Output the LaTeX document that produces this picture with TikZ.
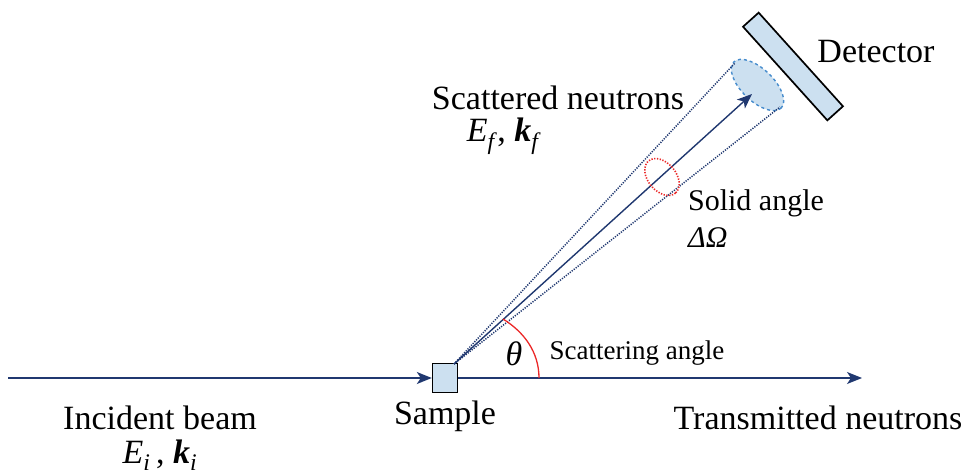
\documentclass[tikz,border=0pt]{standalone}
\usepackage{fontspec}
\setmainfont{Liberation Serif}
\usetikzlibrary{arrows.meta,calc}
\definecolor{navy}{RGB}{32,56,112}
\definecolor{lblue}{RGB}{204,224,240}
\definecolor{dblue}{RGB}{70,140,205}
\definecolor{redarc}{RGB}{235,40,40}
\tikzset{
  lbl/.style={inner sep=0pt, font=\fontsize{34}{38}\selectfont},
  midlbl/.style={inner sep=0pt, font=\fontsize{30}{34}\selectfont},
  smalllbl/.style={inner sep=0pt, font=\fontsize{27}{30}\selectfont},
  beam/.style={draw=navy, line width=1.4pt, -{Stealth[length=15pt,width=12pt,inset=4pt]}},
  cone/.style={draw=navy, line width=1.5pt, dash pattern=on 1.2pt off 1.3pt},
}
\begin{document}
\begin{tikzpicture}[x=1pt,y=-1pt]
\useasboundingbox (0,0) rectangle (967,476);
% sample
\node[draw=black, line width=1.4pt, fill=lblue, minimum width=25pt, minimum height=29pt, inner sep=0pt] (sample) at (445,378) {};
\coordinate (src) at (8,378);
\coordinate (tr) at (862,378);
\coordinate (O) at (454,364);
\coordinate (tip) at (752,94);
\coordinate (eu) at (735,63);
\coordinate (el) at (780,107);
\coordinate (ec) at (757.5,85);
\coordinate (rc) at (662,177);
% detector
\node[draw=black, line width=1.7pt, fill=lblue, minimum width=126pt, minimum height=21pt, inner sep=0pt, rotate=-48] (det) at (793,66.5) {};
% detected area ellipse
\draw[draw=dblue, dashed, line width=1.4pt, fill=lblue, rotate around={-44:(ec)}] (ec) ellipse [x radius=33, y radius=16];
% cone
\draw[cone] (O) -- (eu);
\draw[cone] (O) -- (el);
% beams
\draw[beam] (src) -- (sample.west);
\draw[beam] (sample.east) -- (tr);
\draw[beam] (O) -- (tip);
% solid angle ellipse
\draw[draw=redarc, line width=1.6pt, dash pattern=on 1.3pt off 1.5pt, rotate around={-50:(rc)}] (rc) ellipse [x radius=21, y radius=14];
% theta arc
\draw[draw=redarc, line width=1.3pt] (539,378) .. controls (539,352) and (524,332) .. (503,319);
% labels
\node[lbl] (tDet) at (876,52) {Detector};
\node[lbl] (tScat) at (558,98) {Scattered neutrons};
\node[lbl] (tEf) at (504,136) {\textit{E}\textsubscript{\textit{f}}, \textbf{\textit{k}}\textsubscript{\textit{f}}};
\node[midlbl] (tSolid) at (756,203) {Solid angle};
\node[midlbl, anchor=west] (tOmega) at (688,238) {\textit{ΔΩ}};
\node[lbl] (tTheta) at (514,354) {\textit{θ}};
\node[smalllbl] (tSA) at (637,353) {Scattering angle};
\node[lbl] (tInc) at (160,418) {Incident beam};
\node[lbl] (tEi) at (160,455) {\textit{E}\textsubscript{\textit{i}}\,, \textbf{\textit{k}}\textsubscript{\textit{i}}};
\node[lbl] (tSam) at (445,416) {Sample};
\node[lbl] (tTr) at (818,418) {Transmitted neutrons};
\end{tikzpicture}
\end{document}
